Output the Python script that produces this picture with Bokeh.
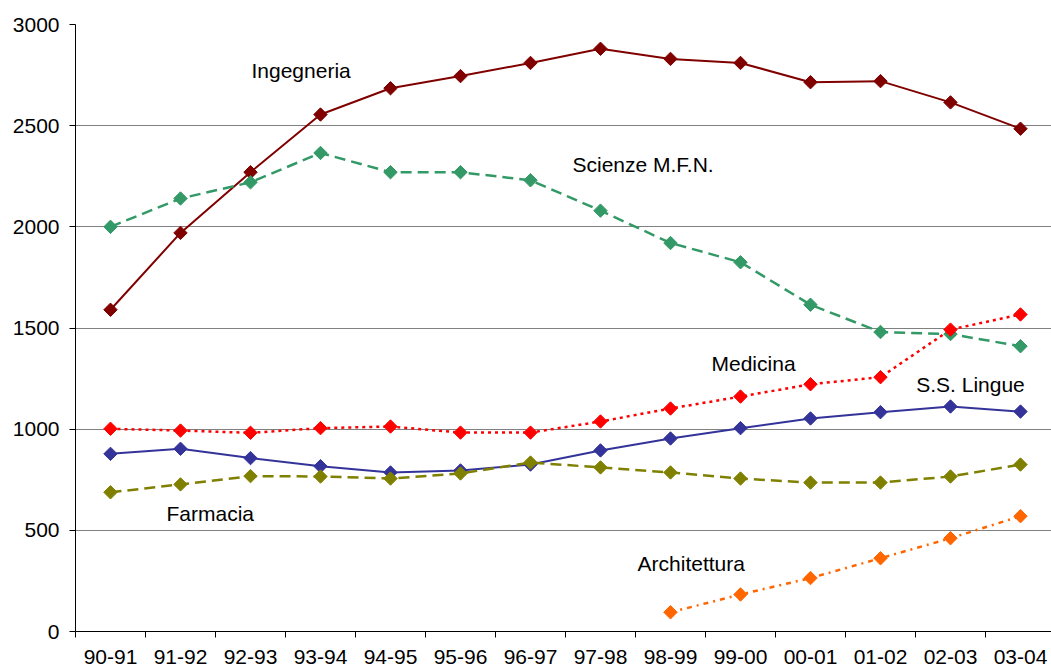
import numpy as np
from bokeh.plotting import figure
from bokeh.models import Range1d, FixedTicker, Label
from bokeh.embed import file_html
from bokeh.resources import INLINE

years = ["90-91", "91-92", "92-93", "93-94", "94-95", "95-96", "96-97",
         "97-98", "98-99", "99-00", "00-01", "01-02", "02-03", "03-04"]

ingegneria = [1590, 1970, 2270, 2555, 2685, 2745, 2810, 2880, 2830, 2810, 2715, 2720, 2615, 2485]
scienze = [2000, 2140, 2220, 2365, 2270, 2270, 2230, 2080, 1920, 1825, 1615, 1480, 1470, 1410]
medicina = [1002, 993, 982, 1005, 1013, 983, 983, 1038, 1102, 1161, 1222, 1257, 1492, 1567]
lingue = [878, 903, 857, 817, 786, 796, 825, 895, 954, 1005, 1053, 1084, 1112, 1087]
farmacia = [688, 727, 768, 766, 756, 781, 835, 811, 786, 756, 736, 736, 766, 825]
architettura = [95, 183, 264, 362, 461, 570]
arch_years = years[8:]

centers = [i + 0.5 for i in range(len(years))]
pos = dict(zip(years, centers))

p = figure(width=1051, height=672, output_backend="svg", toolbar_location=None,
           x_range=Range1d(0, 13.943), y_range=Range1d(0, 3000),
           min_border_left=75, min_border_top=24, min_border_bottom=41,
           min_border_right=0)
p.outline_line_color = None
p.background_fill_color = "white"
p.border_fill_color = "white"

# x axis: labels at category centres, tick marks at category boundaries
p.xaxis.ticker = FixedTicker(ticks=centers, minor_ticks=list(range(len(years) + 1)))
p.xaxis.major_label_overrides = {c: y for c, y in zip(centers, years)}
p.xaxis.major_tick_out = 0
p.xaxis.major_tick_in = 0
p.xaxis.minor_tick_out = 6
p.xaxis.minor_tick_in = 0
p.xaxis.minor_tick_line_color = "black"
p.xaxis.major_label_standoff = 12
p.xgrid.grid_line_color = None

p.yaxis.ticker = FixedTicker(ticks=[0, 500, 1000, 1500, 2000, 2500, 3000])
p.yaxis.major_tick_out = 6
p.yaxis.major_tick_in = 0
p.yaxis.minor_tick_line_color = None
p.yaxis.major_label_standoff = 10
p.ygrid.grid_line_color = "#808080"
p.ygrid.grid_line_width = 1

for ax in (p.xaxis, p.yaxis):
    ax.axis_line_color = "black"
    ax.axis_line_width = 1
    ax.major_tick_line_color = "black"
    ax.major_label_text_font = "Liberation Sans"
    ax.major_label_text_font_size = "21px"
    ax.major_label_text_color = "black"

series = [
    (years, ingegneria, "#800000", "solid", 2),
    (years, scienze, "#339966", "11 6", 2.5),
    (years, medicina, "#FF0000", "3 4", 2.5),
    (years, lingue, "#333399", "solid", 2),
    (years, farmacia, "#808000", "11 6", 2.5),
    (arch_years, architettura, "#FF6600", "5 5 2 5", 2.5),
]

for cats, vals, color, dash, lw in series:
    xs = [pos[c] for c in cats]
    p.line(xs, vals, line_color=color, line_width=lw, line_dash=dash)
    p.scatter(xs, vals, marker="square", angle=np.pi / 4, size=9.5,
              fill_color=color, line_color=color)

labels = [
    ("Ingegneria", 2.514, 2775),
    ("Scienze M.F.N.", 7.1, 2310),
    ("Medicina", 9.086, 1325),
    ("S.S. Lingue", 12.01, 1220),
    ("Farmacia", 1.3, 585),
    ("Architettura", 8.03, 335),
]
for text, x, y in labels:
    p.add_layout(Label(x=x, y=y, text=text, text_font="Liberation Sans",
                       text_font_size="21px", text_baseline="middle",
                       text_color="black"))

open("out.html", "w").write(file_html(p, INLINE))
